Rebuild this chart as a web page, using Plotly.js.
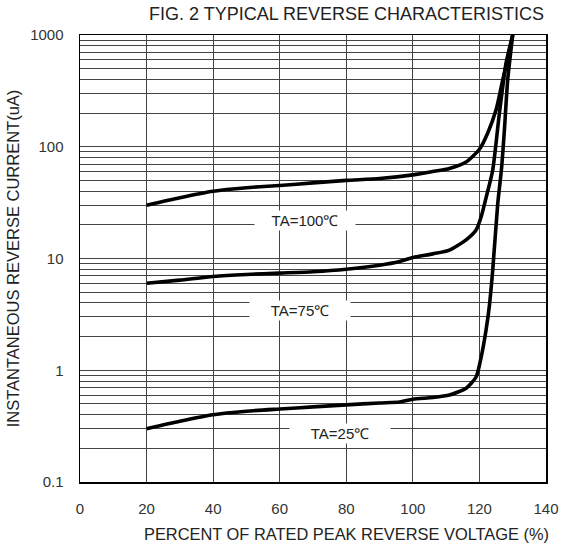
<!DOCTYPE html>
<html>
<head>
<meta charset="utf-8">
<script src="https://cdn.plot.ly/plotly-3.0.1.min.js"></script>
<style>html,body{margin:0;padding:0;background:#fff;}#chart{width:563px;height:544px;}</style>
</head>
<body>
<div id="chart"></div>
<script>
// Data
var x100 = [20, 30, 40, 50, 60, 70, 80, 90, 100, 106, 111, 116, 120, 122.5, 125, 127, 128.5, 130];
var y100 = [30, 35, 40, 43, 45, 47.5, 50, 52, 56, 60, 64, 73, 95, 133, 214, 396, 620, 1000];

var x75 = [20, 30, 40, 50, 60, 70, 80, 90, 96, 100, 106, 111, 116, 119, 120.5, 122, 124, 126, 128, 130];
var y75 = [6.0, 6.4, 6.9, 7.2, 7.4, 7.6, 8.0, 8.7, 9.4, 10.2, 11.0, 11.9, 14.7, 18, 23.5, 35, 62, 200, 560, 1000];

var x25 = [20, 30, 40, 50, 60, 70, 80, 90, 96, 100, 106, 111, 116, 119, 120.5, 122, 123, 124, 125.5, 126.6, 127.5, 128.5, 130];
var y25 = [0.30, 0.35, 0.40, 0.43, 0.45, 0.47, 0.49, 0.51, 0.52, 0.55, 0.57, 0.60, 0.69, 0.87, 1.3, 2.3, 3.8, 7.9, 31, 62, 141, 400, 1000];

var seriesLabels = ['TA=100\u2103', 'TA=75\u2103', 'TA=25\u2103'];
var labelX = [67.5, 66, 78];
var labelY = [22, 3.45, 0.274];

var xTicks = [0, 20, 40, 60, 80, 100, 120, 140];
var decades = [0.1, 1, 10, 100, 1000];
var decadeText = ['0.1', '1', '10', '100', '1000'];

var yTickVals = [], yTickText = [];
for (var d = 0; d < decades.length; d++) {
  for (var m = 1; m <= 9; m++) {
    if (d === decades.length - 1 && m > 1) break;
    yTickVals.push(decades[d] * m);
    yTickText.push(m === 1 ? decadeText[d] : '');
  }
}

var lineStyle = {color: '#000', width: 3.6, shape: 'spline', smoothing: 0.6};
var traces = [
  {x: x100, y: y100, mode: 'lines', line: lineStyle, hoverinfo: 'skip'},
  {x: x75, y: y75, mode: 'lines', line: lineStyle, hoverinfo: 'skip'},
  {x: x25, y: y25, mode: 'lines', line: lineStyle, hoverinfo: 'skip'}
];

var font = 'Liberation Sans, Arial, sans-serif';
var annotations = [];
for (var i = 0; i < seriesLabels.length; i++) {
  annotations.push({
    x: labelX[i], y: Math.log10(labelY[i]), xref: 'x', yref: 'y',
    text: seriesLabels[i], showarrow: false, bgcolor: '#fff', width: 98, borderpad: 1,
    font: {family: font, size: 15, color: '#222'}
  });
}
annotations.push({
  text: 'FIG. 2 TYPICAL REVERSE CHARACTERISTICS', xref: 'paper', yref: 'paper',
  x: 1, y: 1, xanchor: 'right', yanchor: 'bottom', yshift: 9, showarrow: false,
  font: {family: font, size: 18, color: '#222'}
});
annotations.push({
  text: 'PERCENT OF RATED PEAK REVERSE VOLTAGE (%)', xref: 'paper', yref: 'paper',
  x: 1.01, y: 0, xanchor: 'right', yanchor: 'top', yshift: -41, showarrow: false,
  font: {family: font, size: 16.4, color: '#222'}
});

var layout = {
  width: 563, height: 544,
  margin: {l: 80, r: 17, t: 35, b: 62},
  paper_bgcolor: '#fff', plot_bgcolor: '#fff',
  showlegend: false,
  font: {family: font, size: 15, color: '#333'},
  xaxis: {
    range: [0, 140], tickvals: xTicks, ticktext: xTicks.map(String),
    showgrid: true, gridcolor: '#444', gridwidth: 1, zeroline: false,
    showline: true, linecolor: '#000', linewidth: 1.5, mirror: true,
    ticks: '', ticklabelstandoff: 12,
    tickfont: {family: font, size: 15, color: '#333'}
  },
  yaxis: {
    type: 'log', range: [-1, 3], tickvals: yTickVals, ticktext: yTickText,
    showgrid: true, gridcolor: '#444', gridwidth: 1, zeroline: false,
    showline: true, linecolor: '#000', linewidth: 1.5, mirror: true,
    ticks: '', ticklabelstandoff: 12, automargin: false,
    tickfont: {family: font, size: 15, color: '#333'},
    title: {text: 'INSTANTANEOUS REVERSE CURRENT(uA)', standoff: 6,
            font: {family: font, size: 16.5, color: '#222'}}
  },
  annotations: annotations
};

Plotly.newPlot('chart', traces, layout, {staticPlot: true, displayModeBar: false});
</script>
</body>
</html>
